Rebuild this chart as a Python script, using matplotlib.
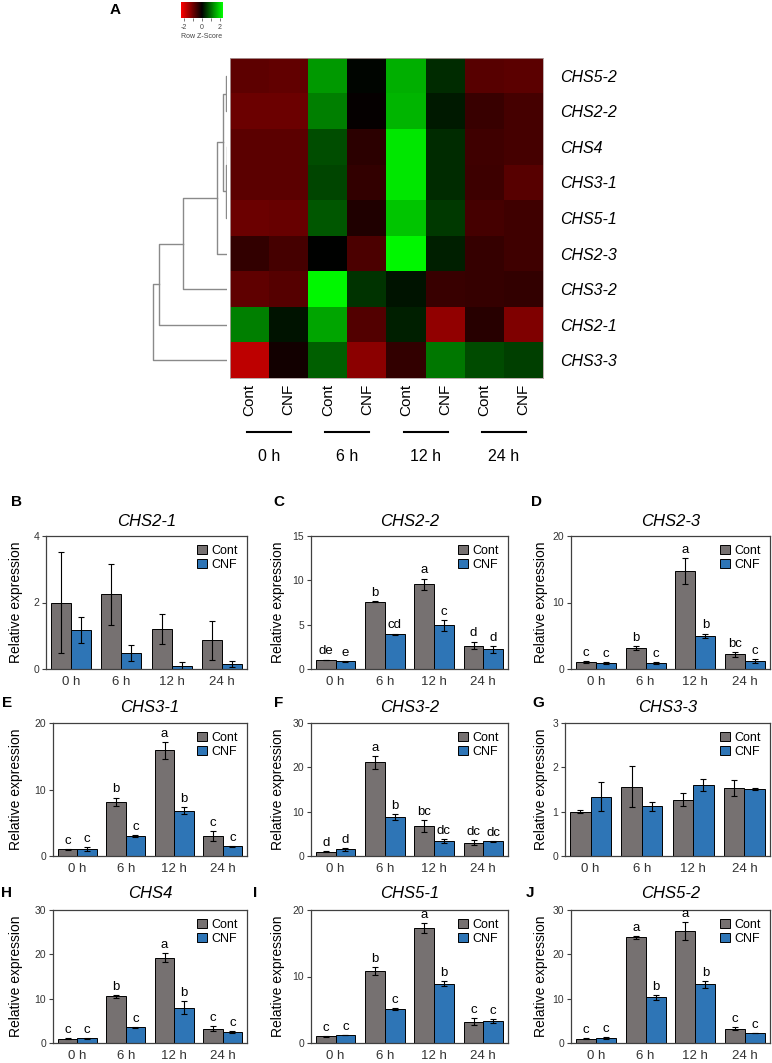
import numpy as np
import matplotlib
matplotlib.use('Agg')
import matplotlib.pyplot as plt
from matplotlib.colors import LinearSegmentedColormap, Normalize
from matplotlib.cm import ScalarMappable

plt.rcParams['font.family'] = ['Liberation Sans', 'DejaVu Sans']

W, H = 772, 1063

genes = ['CHS5-2', 'CHS2-2', 'CHS4', 'CHS3-1', 'CHS5-1', 'CHS2-3', 'CHS3-2', 'CHS2-1', 'CHS3-3']
conds = ['Cont', 'CNF', 'Cont', 'CNF', 'Cont', 'CNF', 'Cont', 'CNF']
times = ['0 h', '6 h', '12 h', '24 h']
z_chs52 = [-0.85, -0.88, 1.40, 0.05, 1.60, 0.40, -0.80, -0.83]
z_chs22 = [-0.98, -0.98, 1.15, -0.05, 1.65, 0.23, -0.52, -0.63]
z_chs4 = [-0.83, -0.83, 0.70, -0.40, 2.10, 0.40, -0.58, -0.63]
z_chs31 = [-0.83, -0.83, 0.63, -0.46, 2.10, 0.40, -0.55, -0.80]
z_chs51 = [-0.98, -0.94, 0.80, -0.29, 1.80, 0.52, -0.63, -0.58]
z_chs23 = [-0.46, -0.63, 0.00, -0.69, 2.25, 0.29, -0.48, -0.58]
z_chs32 = [-0.86, -0.78, 2.25, 0.46, 0.17, -0.52, -0.49, -0.46]
z_chs21 = [1.15, 0.17, 1.50, -0.75, 0.29, -1.32, -0.35, -1.15]
z_chs33 = [-1.72, -0.17, 0.86, -1.27, -0.46, 1.09, 0.69, 0.58]

# dendrogram merges: (child a, child b, height); leaves 0..8 in row order
merges = [(0, 1, 0.10), (2, 3, 0.05), (10, 4, 0.12), (9, 11, 0.42),
          (12, 5, 1.07), (13, 6, 4.40), (14, 7, 6.85), (15, 8, 7.40)]

# ---- bar chart data ----
chs21_cont = [2.00, 2.25, 1.20, 0.86]
chs21_cont_sd = [1.52, 0.92, 0.44, 0.58]
chs21_cnf = [1.17, 0.48, 0.10, 0.16]
chs21_cnf_sd = [0.39, 0.23, 0.10, 0.09]

chs22_cont = [1.02, 7.58, 9.58, 2.65]
chs22_cont_sd = [0.05, 0.06, 0.62, 0.45]
chs22_cnf = [0.87, 3.94, 4.92, 2.20]
chs22_cnf_sd = [0.05, 0.06, 0.60, 0.38]
chs22_cont_lab = ['de', 'b', 'a', 'd']
chs22_cnf_lab = ['e', 'cd', 'c', 'd']

chs23_cont = [1.05, 3.15, 14.75, 2.20]
chs23_cont_sd = [0.15, 0.30, 1.90, 0.35]
chs23_cnf = [0.90, 0.90, 5.00, 1.15]
chs23_cnf_sd = [0.10, 0.10, 0.33, 0.30]
chs23_cont_lab = ['c', 'b', 'a', 'bc']
chs23_cnf_lab = ['c', 'c', 'b', 'c']

chs31_cont = [1.00, 8.14, 15.90, 3.00]
chs31_cont_sd = [0.05, 0.65, 1.25, 0.72]
chs31_cnf = [1.05, 3.00, 6.83, 1.45]
chs31_cnf_sd = [0.27, 0.15, 0.50, 0.05]
chs31_cont_lab = ['c', 'b', 'a', 'c']
chs31_cnf_lab = ['c', 'c', 'b', 'c']

chs32_cont = [0.98, 21.1, 6.80, 3.00]
chs32_cont_sd = [0.05, 1.50, 1.40, 0.60]
chs32_cnf = [1.50, 8.83, 3.30, 3.30]
chs32_cnf_sd = [0.30, 0.60, 0.45, 0.10]
chs32_cont_lab = ['d', 'a', 'bc', 'dc']
chs32_cnf_lab = ['d', 'b', 'dc', 'dc']

chs33_cont = [1.00, 1.56, 1.27, 1.53]
chs33_cont_sd = [0.04, 0.46, 0.14, 0.18]
chs33_cnf = [1.34, 1.12, 1.60, 1.51]
chs33_cnf_sd = [0.32, 0.10, 0.14, 0.02]

chs4_cont = [1.00, 10.5, 19.2, 3.20]
chs4_cont_sd = [0.05, 0.40, 1.00, 0.60]
chs4_cnf = [1.10, 3.50, 8.00, 2.50]
chs4_cnf_sd = [0.10, 0.20, 1.50, 0.20]
chs4_cont_lab = ['c', 'b', 'a', 'c']
chs4_cnf_lab = ['c', 'c', 'b', 'c']

chs51_cont = [1.00, 10.8, 17.3, 3.20]
chs51_cont_sd = [0.10, 0.60, 0.80, 0.50]
chs51_cnf = [1.20, 5.10, 8.90, 3.30]
chs51_cnf_sd = [0.05, 0.15, 0.40, 0.30]
chs51_cont_lab = ['c', 'b', 'a', 'c']
chs51_cnf_lab = ['c', 'c', 'b', 'c']

chs52_cont = [1.00, 23.8, 25.3, 3.20]
chs52_cont_sd = [0.10, 0.40, 2.00, 0.30]
chs52_cnf = [1.20, 10.3, 13.2, 2.20]
chs52_cnf_sd = [0.20, 0.50, 0.80, 0.05]
chs52_cont_lab = ['c', 'a', 'a', 'c']
chs52_cnf_lab = ['c', 'b', 'b', 'c']

GRAY = '#767171'
BLUE = '#2E75B6'
FRAME = '#404040'

fig = plt.figure(figsize=(W / 100, H / 100), dpi=100)


def px_axes(x0, y0, x1, y1):
    return fig.add_axes([x0 / W, 1 - y1 / H, (x1 - x0) / W, (y1 - y0) / H])


def px_text(x, y, s, **kw):
    fig.text(x / W, 1 - y / H, s, **kw)


# ---- panel A: heatmap ----
cmap = LinearSegmentedColormap.from_list('rg', ['#FF0000', '#000000', '#00FF00'])
norm = Normalize(-2.33, 2.33)
zmat = np.array([z_chs52, z_chs22, z_chs4, z_chs31, z_chs51, z_chs23, z_chs32, z_chs21, z_chs33])

ax_hm = px_axes(230, 58, 543, 378)
ax_hm.imshow(zmat, cmap=cmap, norm=norm, aspect='auto', interpolation='nearest')
ax_hm.set_xticks(range(len(conds)))
ax_hm.set_xticklabels(conds, rotation=90, fontsize=11)
ax_hm.yaxis.tick_right()
ax_hm.set_yticks(range(len(genes)))
ax_hm.set_yticklabels(genes, fontsize=11.5, style='italic')
ax_hm.tick_params(length=0)
ax_hm.tick_params(axis='y', pad=12)
ax_hm.tick_params(axis='x', pad=4)
for sp in ax_hm.spines.values():
    sp.set_color('#b0a0a0')
    sp.set_linewidth(0.6)
for k, t in enumerate(times):
    c = 2 * k + 0.5
    ax_hm.plot([c - 0.56, c + 0.56], [-0.169, -0.169], color='black', lw=1.5,
               transform=ax_hm.get_xaxis_transform(), clip_on=False)
    ax_hm.text(c, -0.245, t, transform=ax_hm.get_xaxis_transform(),
               ha='center', va='center', fontsize=11.5)

# dendrogram
ax_dn = px_axes(145, 58, 227.3, 378)
nodes = {i: (0.0, float(i)) for i in range(len(genes))}
for n, (a, b, h) in enumerate(merges, start=len(genes)):
    ha, ya = nodes[a]
    hb, yb = nodes[b]
    ax_dn.plot([ha, h, h, hb], [ya, ya, yb, yb], color='#8a8a8a', lw=1)
    nodes[n] = (h, (ya + yb) / 2)
ax_dn.set_xlim(8.23, 0)
ax_dn.set_ylim(len(genes) - 0.5, -0.5)
ax_dn.axis('off')

# colour key
ax_key = px_axes(181, 2, 223, 18)
cb = fig.colorbar(ScalarMappable(norm=norm, cmap=cmap), cax=ax_key, orientation='horizontal')
cb.outline.set_visible(False)
cb.set_ticks([-2, -1, 0, 1, 2])
cb.set_ticklabels(['-2', '', '0', '', '2'])
ax_key.tick_params(labelsize=5, length=2.5, width=0.5, pad=1.5, colors='#444444')
ax_key.set_xlabel('Row Z-Score', fontsize=5, labelpad=2, color='#444444')

px_text(115, 10, 'A', fontsize=11, fontweight='bold', ha='center', va='center')

# ---- bar panels ----
panels = [
    ('B', 'CHS2-1', chs21_cont, chs21_cont_sd, chs21_cnf, chs21_cnf_sd, None, None, 4, [0, 2, 4], (46, 536, 247, 669), (17, 502), 522),
    ('C', 'CHS2-2', chs22_cont, chs22_cont_sd, chs22_cnf, chs22_cnf_sd, chs22_cont_lab, chs22_cnf_lab, 15, [0, 5, 10, 15], (311, 536, 508, 669), (279, 502), 522),
    ('D', 'CHS2-3', chs23_cont, chs23_cont_sd, chs23_cnf, chs23_cnf_sd, chs23_cont_lab, chs23_cnf_lab, 20, [0, 10, 20], (571, 536, 770, 669), (537, 502), 522),
    ('E', 'CHS3-1', chs31_cont, chs31_cont_sd, chs31_cnf, chs31_cnf_sd, chs31_cont_lab, chs31_cnf_lab, 20, [0, 10, 20], (53, 723, 247, 856), (7, 703), 708),
    ('F', 'CHS3-2', chs32_cont, chs32_cont_sd, chs32_cnf, chs32_cnf_sd, chs32_cont_lab, chs32_cnf_lab, 30, [0, 10, 20, 30], (311, 723, 508, 856), (279, 703), 708),
    ('G', 'CHS3-3', chs33_cont, chs33_cont_sd, chs33_cnf, chs33_cnf_sd, None, None, 3, [0, 1, 2, 3], (565, 723, 770, 856), (538, 703), 708),
    ('H', 'CHS4', chs4_cont, chs4_cont_sd, chs4_cnf, chs4_cnf_sd, chs4_cont_lab, chs4_cnf_lab, 30, [0, 10, 20, 30], (53, 910, 247, 1043), (7, 893), 893),
    ('I', 'CHS5-1', chs51_cont, chs51_cont_sd, chs51_cnf, chs51_cnf_sd, chs51_cont_lab, chs51_cnf_lab, 20, [0, 10, 20], (311, 910, 508, 1043), (255, 893), 893),
    ('J', 'CHS5-2', chs52_cont, chs52_cont_sd, chs52_cnf, chs52_cnf_sd, chs52_cont_lab, chs52_cnf_lab, 30, [0, 10, 20, 30], (571, 910, 770, 1043), (530, 893), 893),
]

ylab_x = {46: 16, 53: 16, 311: 278, 565: 541, 571: 541}
err_kw = dict(ecolor='black', elinewidth=0.8, capsize=2.5, capthick=0.8)

for letter, title, cont, cont_sd, cnf, cnf_sd, lab_c, lab_n, ymax, yticks, box, lpos, ty in panels:
    ax = px_axes(*box)
    x = np.arange(len(times))
    ax.bar(x - 0.2, cont, 0.4, yerr=cont_sd, color=GRAY, edgecolor='black', linewidth=0.7,
           error_kw=err_kw, label='Cont', zorder=2)
    ax.bar(x + 0.2, cnf, 0.4, yerr=cnf_sd, color=BLUE, edgecolor='black', linewidth=0.7,
           error_kw=err_kw, label='CNF', zorder=2)
    if lab_c:
        for xi, v, s, t in zip(x - 0.2, cont, cont_sd, lab_c):
            ax.annotate(t, (xi, v + s), xytext=(0, 1.5), textcoords='offset points',
                        ha='center', va='bottom', fontsize=9.5)
        for xi, v, s, t in zip(x + 0.2, cnf, cnf_sd, lab_n):
            ax.annotate(t, (xi, v + s), xytext=(0, 1.5), textcoords='offset points',
                        ha='center', va='bottom', fontsize=9.5)
    ax.set_xlim(-0.5, len(times) - 0.5)
    ax.set_ylim(0, ymax)
    ax.set_yticks(yticks)
    ax.set_xticks(x)
    ax.set_xticklabels(times, fontsize=9.5, color='#333333')
    ax.tick_params(axis='x', length=0, pad=5)
    ax.tick_params(axis='y', length=3, width=0.8, color=FRAME, labelsize=7.5,
                   labelcolor='#333333', pad=2)
    for sp in ax.spines.values():
        sp.set_color(FRAME)
        sp.set_linewidth(0.9)
    ax.legend(loc='upper right', frameon=False, fontsize=9, handlelength=0.8, handleheight=0.8,
              handletextpad=0.4, labelspacing=0.15, borderaxespad=0.3)
    px_text(ylab_x[box[0]], (box[1] + box[3]) / 2, 'Relative expression', rotation=90,
            ha='center', va='center', fontsize=10)
    px_text((box[0] + box[2]) / 2, ty, title, ha='center', va='center', fontsize=12, style='italic')
    px_text(lpos[0], lpos[1], letter, ha='center', va='center', fontsize=11, fontweight='bold')

fig.savefig('out.png', dpi=100)
